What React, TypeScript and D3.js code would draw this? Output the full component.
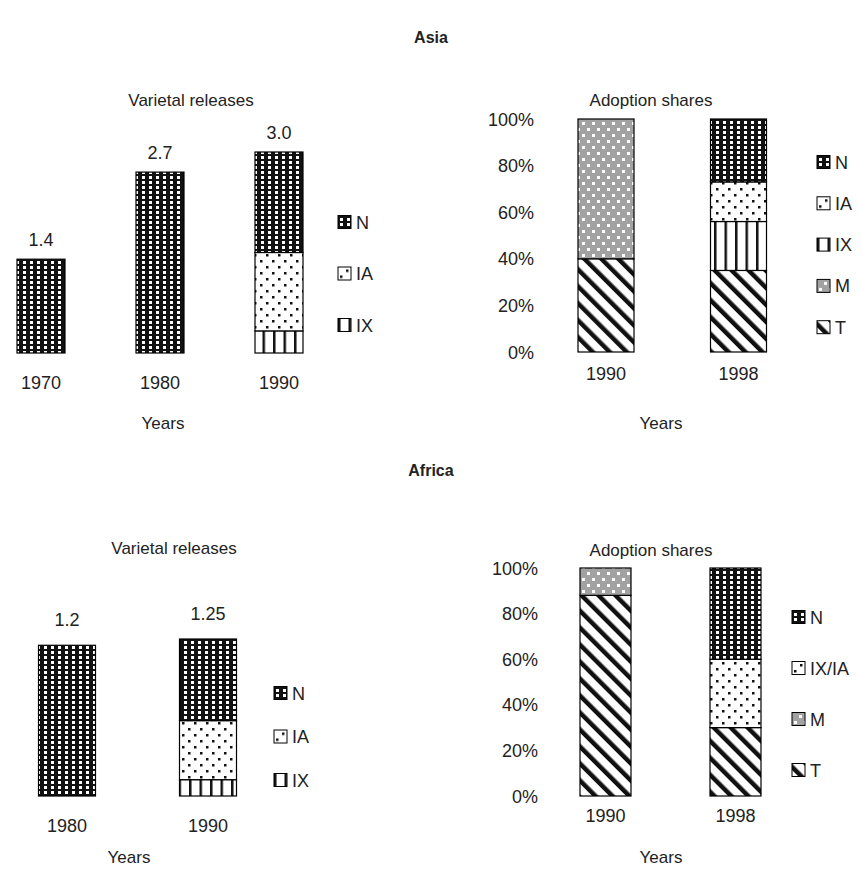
import React from 'react';
import * as d3 from 'd3';

// ---------- DATA ----------
const asiaReleaseYears = ['1970', '1980', '1990'];
const asiaReleaseIX = [0, 0, 0.33];
const asiaReleaseIA = [0, 0, 1.17];
const asiaReleaseN = [1.4, 2.7, 1.5];
const asiaReleaseLabels = ['1.4', '2.7', '3.0'];

const asiaAdoptYears = ['1990', '1998'];
const asiaAdoptT = [40, 35];
const asiaAdoptM = [60, 0];
const asiaAdoptIX = [0, 21];
const asiaAdoptIA = [0, 17];
const asiaAdoptN = [0, 27];

const africaReleaseYears = ['1980', '1990'];
const africaReleaseIX = [0, 0.13];
const africaReleaseIA = [0, 0.47];
const africaReleaseN = [1.2, 0.65];
const africaReleaseLabels = ['1.2', '1.25'];

const africaAdoptYears = ['1990', '1998'];
const africaAdoptT = [88, 30];
const africaAdoptM = [12, 0];
const africaAdoptIXIA = [0, 30];
const africaAdoptN = [0, 40];

const pctTicks = [0, 20, 40, 60, 80, 100];

const FONT = '"Liberation Sans", Arial, Helvetica, sans-serif';

type Seg = { key: string; values: number[] };

function StackBars({ years, segs, x, y, barW }: { years: string[]; segs: Seg[]; x: d3.ScalePoint<string>; y: d3.ScaleLinear<number, number>; barW: number }) {
  const rows = years.map((yr, i) => {
    const o: any = { year: yr };
    segs.forEach(s => (o[s.key] = s.values[i]));
    return o;
  });
  const stack = d3.stack<any>().keys(segs.map(s => s.key));
  const series = stack(rows);
  return (
    <g>
      {series.map(ser =>
        ser.map((d, i) => {
          const h = y(d[0]) - y(d[1]);
          if (h <= 0.01) return null;
          return (
            <rect
              key={ser.key + i}
              x={(x(years[i]) as number) - barW / 2}
              y={y(d[1])}
              width={barW}
              height={h}
              fill={`url(#pat${ser.key})`}
              stroke="#000"
              strokeWidth={1.2}
            />
          );
        })
      )}
    </g>
  );
}

function Legend({ items, x, y0, dy }: { items: { key: string; label: string }[]; x: number; y0: number; dy: number }) {
  return (
    <g>
      {items.map((it, i) => (
        <g key={it.label} transform={`translate(${x},${y0 + i * dy})`}>
          <rect x={0} y={-6.5} width={13} height={13} fill={`url(#pat${it.key})`} stroke="#000" strokeWidth={1} />
          <text x={18} y={6.5} fontSize={18} fontFamily={FONT} fill="#222">{it.label}</text>
        </g>
      ))}
    </g>
  );
}

export default function App() {
  // Asia left
  const xAL = d3.scalePoint<string>().domain(asiaReleaseYears).range([41, 279]);
  const yAL = d3.scaleLinear().domain([0, 3]).range([353, 152]);
  // Asia right
  const xAR = d3.scalePoint<string>().domain(asiaAdoptYears).range([606, 738.5]);
  const yAR = d3.scaleLinear().domain([0, 100]).range([352, 119]);
  // Africa left
  const xFL = d3.scalePoint<string>().domain(africaReleaseYears).range([67, 208]);
  const yFL = d3.scaleLinear().domain([0, 1.25]).range([796, 639]);
  // Africa right
  const xFR = d3.scalePoint<string>().domain(africaAdoptYears).range([605.5, 735.5]);
  const yFR = d3.scaleLinear().domain([0, 100]).range([796, 568]);

  const asiaTotals = asiaReleaseYears.map((_, i) => asiaReleaseIX[i] + asiaReleaseIA[i] + asiaReleaseN[i]);
  const africaTotals = africaReleaseYears.map((_, i) => africaReleaseIX[i] + africaReleaseIA[i] + africaReleaseN[i]);

  const txt = { fontFamily: FONT, fontSize: 17, fill: '#222' } as const;
  const num = { fontFamily: FONT, fontSize: 18, fill: '#222' } as const;

  return (
    <svg width={863} height={870} style={{ position: 'absolute', left: 0, top: 0, background: '#fff' }}>
      <defs>
        <pattern id="patN" width={7} height={5} patternUnits="userSpaceOnUse">
          <rect width={7} height={5} fill="#111" />
          <rect x={2} y={1} width={3} height={3} fill="#fff" />
        </pattern>
        <pattern id="patIA" width={12} height={12} patternUnits="userSpaceOnUse">
          <rect width={12} height={12} fill="#fff" />
          <rect x={2} y={2} width={2.5} height={2.5} fill="#111" />
          <rect x={8} y={8} width={2.5} height={2.5} fill="#111" />
        </pattern>
        <pattern id="patIXIA" width={12} height={12} patternUnits="userSpaceOnUse">
          <rect width={12} height={12} fill="#fff" />
          <rect x={2} y={2} width={2.5} height={2.5} fill="#111" />
          <rect x={8} y={8} width={2.5} height={2.5} fill="#111" />
        </pattern>
        <pattern id="patIX" width={10.5} height={10} patternUnits="userSpaceOnUse">
          <rect width={10.5} height={10} fill="#fff" />
          <rect x={0} y={0} width={2.5} height={10} fill="#111" />
        </pattern>
        <pattern id="patM" width={10} height={12} patternUnits="userSpaceOnUse">
          <rect width={10} height={12} fill="#a2a2a2" />
          <rect x={2} y={2} width={3} height={3} fill="#fff" />
          <rect x={7} y={8} width={3} height={3} fill="#fff" />
        </pattern>
        <pattern id="patT" width={12} height={12} patternUnits="userSpaceOnUse" patternTransform="rotate(-45)">
          <rect width={12} height={12} fill="#fff" />
          <rect x={0} y={0} width={4.5} height={12} fill="#111" />
        </pattern>
      </defs>

      {/* ---------- ASIA ---------- */}
      <text x={431} y={43} textAnchor="middle" fontWeight="bold" {...txt} fontSize={16}>Asia</text>

      {/* Varietal releases */}
      <text x={191} y={106} textAnchor="middle" {...txt}>Varietal releases</text>
      <StackBars
        years={asiaReleaseYears}
        segs={[{ key: 'IX', values: asiaReleaseIX }, { key: 'IA', values: asiaReleaseIA }, { key: 'N', values: asiaReleaseN }]}
        x={xAL}
        y={yAL}
        barW={48}
      />
      {asiaReleaseYears.map((yr, i) => (
        <text key={'al' + yr} x={xAL(yr)} y={yAL(asiaTotals[i]) - 13} textAnchor="middle" {...num}>{asiaReleaseLabels[i]}</text>
      ))}
      {asiaReleaseYears.map(yr => (
        <text key={'alx' + yr} x={xAL(yr)} y={389} textAnchor="middle" {...num}>{yr}</text>
      ))}
      <text x={163} y={429} textAnchor="middle" {...txt}>Years</text>
      <Legend items={[{ key: 'N', label: 'N' }, { key: 'IA', label: 'IA' }, { key: 'IX', label: 'IX' }]} x={338} y0={222} dy={51.5} />

      {/* Adoption shares */}
      <text x={651} y={106} textAnchor="middle" {...txt}>Adoption shares</text>
      {pctTicks.map(t => (
        <text key={'ary' + t} x={534} y={yAR(t) + 6.5} textAnchor="end" {...num}>{t}%</text>
      ))}
      <StackBars
        years={asiaAdoptYears}
        segs={[
          { key: 'T', values: asiaAdoptT },
          { key: 'M', values: asiaAdoptM },
          { key: 'IX', values: asiaAdoptIX },
          { key: 'IA', values: asiaAdoptIA },
          { key: 'N', values: asiaAdoptN },
        ]}
        x={xAR}
        y={yAR}
        barW={56}
      />
      {asiaAdoptYears.map(yr => (
        <text key={'arx' + yr} x={xAR(yr)} y={380} textAnchor="middle" {...num}>{yr}</text>
      ))}
      <text x={661} y={429} textAnchor="middle" {...txt}>Years</text>
      <Legend
        items={[
          { key: 'N', label: 'N' },
          { key: 'IA', label: 'IA' },
          { key: 'IX', label: 'IX' },
          { key: 'M', label: 'M' },
          { key: 'T', label: 'T' },
        ]}
        x={817}
        y0={162}
        dy={41.3}
      />

      {/* ---------- AFRICA ---------- */}
      <text x={431} y={476} textAnchor="middle" fontWeight="bold" {...txt} fontSize={16}>Africa</text>

      <text x={174} y={554} textAnchor="middle" {...txt}>Varietal releases</text>
      <StackBars
        years={africaReleaseYears}
        segs={[{ key: 'IX', values: africaReleaseIX }, { key: 'IA', values: africaReleaseIA }, { key: 'N', values: africaReleaseN }]}
        x={xFL}
        y={yFL}
        barW={57}
      />
      {africaReleaseYears.map((yr, i) => (
        <text key={'fl' + yr} x={xFL(yr)} y={yFL(africaTotals[i]) - 19} textAnchor="middle" {...num}>{africaReleaseLabels[i]}</text>
      ))}
      {africaReleaseYears.map(yr => (
        <text key={'flx' + yr} x={xFL(yr)} y={832} textAnchor="middle" {...num}>{yr}</text>
      ))}
      <text x={129} y={863} textAnchor="middle" {...txt}>Years</text>
      <Legend items={[{ key: 'N', label: 'N' }, { key: 'IA', label: 'IA' }, { key: 'IX', label: 'IX' }]} x={274} y0={693} dy={43.5} />

      <text x={651} y={556} textAnchor="middle" {...txt}>Adoption shares</text>
      {pctTicks.map(t => (
        <text key={'fry' + t} x={538} y={yFR(t) + 6.5} textAnchor="end" {...num}>{t}%</text>
      ))}
      <StackBars
        years={africaAdoptYears}
        segs={[
          { key: 'T', values: africaAdoptT },
          { key: 'M', values: africaAdoptM },
          { key: 'IXIA', values: africaAdoptIXIA },
          { key: 'N', values: africaAdoptN },
        ]}
        x={xFR}
        y={yFR}
        barW={51}
      />
      {africaAdoptYears.map(yr => (
        <text key={'frx' + yr} x={xFR(yr)} y={822} textAnchor="middle" {...num}>{yr}</text>
      ))}
      <text x={661} y={863} textAnchor="middle" {...txt}>Years</text>
      <Legend
        items={[
          { key: 'N', label: 'N' },
          { key: 'IXIA', label: 'IX/IA' },
          { key: 'M', label: 'M' },
          { key: 'T', label: 'T' },
        ]}
        x={792}
        y0={617}
        dy={51}
      />
    </svg>
  );
}
